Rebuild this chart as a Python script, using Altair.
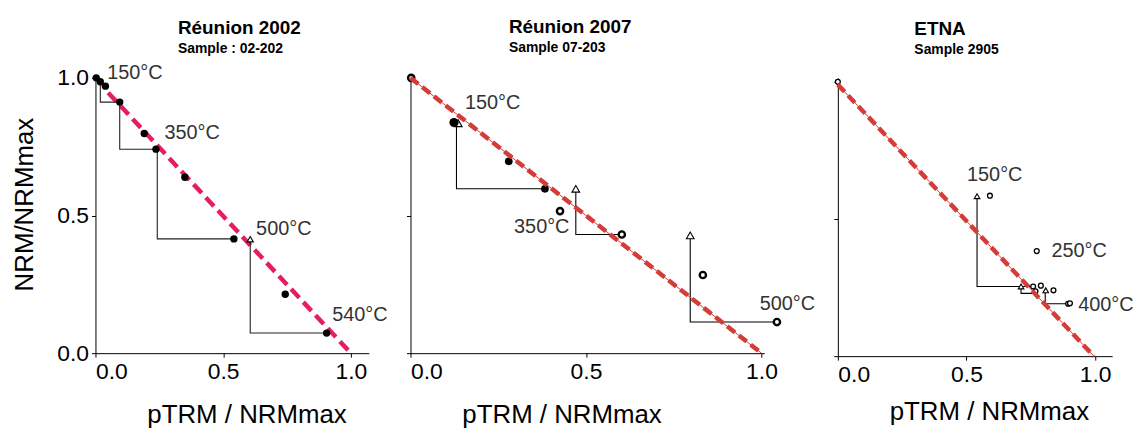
import altair as alt
import pandas as pd

FONT = "Liberation Sans"
TXT = "#333333"

# ---------------- Panel 1 : Réunion 2002, sample 02-202 ----------------
r02_x = [0.003, 0.019, 0.039, 0.095, 0.191, 0.237, 0.350, 0.542, 0.743, 0.905]
r02_y = [1.000, 0.986, 0.970, 0.912, 0.798, 0.741, 0.639, 0.415, 0.214, 0.073]
r02_tri_x = [0.606]
r02_tri_y = [0.414]
# pTRM-check paths: start x, top y, bottom y, end x
r02_chk_x0 = [0.019, 0.095, 0.242, 0.606]
r02_chk_y0 = [0.986, 0.912, 0.741, 0.414]
r02_chk_y1 = [0.912, 0.741, 0.415, 0.073]
r02_chk_x1 = [0.095, 0.237, 0.542, 0.905]
r02_fit_x = [0.05, 1.0]
r02_fit_y = [0.946, 0.0]
r02_lab = ["150°C", "350°C", "500°C", "540°C"]
r02_lab_x = [0.046, 0.270, 0.629, 0.927]
r02_lab_y = [1.018, 0.798, 0.452, 0.137]

# ---------------- Panel 2 : Réunion 2007, sample 07-203 ----------------
r07_big_x = [0.124]
r07_big_y = [0.838]
r07_fill_x = [0.280, 0.383]
r07_fill_y = [0.697, 0.597]
r07_open_x = [0.002, 0.426, 0.602, 0.833, 1.044]
r07_open_y = [1.000, 0.516, 0.431, 0.284, 0.113]
r07_tri_x = [0.136, 0.471, 0.797]
r07_tri_y = [0.835, 0.597, 0.428]
r07_chk_x0 = [0.131, 0.471, 0.797]
r07_chk_y0 = [0.835, 0.597, 0.428]
r07_chk_y1 = [0.597, 0.431, 0.113]
r07_chk_x1 = [0.383, 0.599, 1.044]
r07_fit_x = [0.0, 1.0]
r07_fit_y = [1.0, 0.0]
r07_lab = ["150°C", "350°C", "500°C"]
r07_lab_x = [0.155, 0.295, 0.995]
r07_lab_y = [0.910, 0.458, 0.177]

# ---------------- Panel 3 : ETNA, sample 2905 ----------------
etna_x = [0.000, 0.591, 0.773, 0.759, 0.789, 0.768, 0.838, 0.895, 0.902]
etna_y = [1.000, 0.585, 0.383, 0.254, 0.257, 0.236, 0.240, 0.191, 0.193]
etna_tri_x = [0.541, 0.712, 0.808]
etna_tri_y = [0.583, 0.254, 0.240]
etna_chk_x0 = [0.541, 0.712, 0.806]
etna_chk_y0 = [0.583, 0.254, 0.240]
etna_chk_y1 = [0.254, 0.229, 0.191]
etna_chk_x1 = [0.759, 0.760, 0.892]
etna_fit_x = [0.0, 0.995]
etna_fit_y = [0.990, 0.0]
etna_lab = ["150°C", "250°C", "400°C"]
etna_lab_x = [0.502, 0.830, 0.934]
etna_lab_y = [0.659, 0.384, 0.188]


def pts(xs, ys):
    return pd.DataFrame({"x": xs, "y": ys})


def checks(x0, y0, y1, x1):
    rows = []
    for i, (a, b, c, d) in enumerate(zip(x0, y0, y1, x1)):
        rows += [
            {"x": a, "y": b, "g": i, "o": 0},
            {"x": a, "y": c, "g": i, "o": 1},
            {"x": d, "y": c, "g": i, "o": 2},
        ]
    return pd.DataFrame(rows)


def make_panel(xmax, width, ymax, height, title, subtitle, title_dx, title_off,
               xtitle_y, y_labels, layers_fn):
    xscale = alt.Scale(domain=[0, xmax], nice=False, zero=False)
    yscale = alt.Scale(domain=[0, ymax], nice=False, zero=False)
    xaxis = alt.Axis(
        values=[0, 0.5, 1.0], format=".1f", grid=False,
        labelFont=FONT, labelFontSize=23, labelColor="black",
        labelPadding=4, tickSize=4, tickColor="black", domainColor="black",
        title="pTRM / NRMmax", titleFont=FONT, titleFontSize=26,
        titleFontWeight="normal", titleColor="black",
        titleX=152, titleY=xtitle_y, titleBaseline="alphabetic", titleAlign="center",
    )
    if y_labels:
        yaxis = alt.Axis(
            values=[0, 0.5, 1.0], format=".1f", grid=False,
            labelFont=FONT, labelFontSize=23, labelColor="black",
            labelPadding=3, tickSize=4, tickColor="black", domainColor="black",
            title="NRM/NRMmax", titleFont=FONT, titleFontSize=26,
            titleFontWeight="normal", titleColor="black",
            titleX=-63, titleY=127, titleBaseline="alphabetic",
            titleAlign="center", titleAngle=270,
        )
    else:
        yaxis = alt.Axis(
            values=[0, 0.5, 1.0], grid=False, labels=False,
            tickSize=4, tickColor="black", domainColor="black", title="",
        )
    X = alt.X("x:Q", scale=xscale, axis=xaxis)
    Y = alt.Y("y:Q", scale=yscale, axis=yaxis)
    layers = layers_fn(X, Y)
    return alt.layer(*layers).properties(
        width=width, height=height,
        title=alt.TitleParams(
            text=title, subtitle=subtitle, anchor="start", dx=title_dx,
            frame="group",
            font=FONT, fontSize=19, fontWeight="bold", color="black",
            subtitleFont=FONT, subtitleFontSize=14, subtitleFontWeight="bold",
            subtitleColor="black", subtitlePadding=4, offset=title_off,
        ),
    )


def fit_layers(X, Y, xs, ys, color, thin):
    out = []
    d = pts(xs, ys)
    if thin:
        out.append(alt.Chart(d).mark_line(color=color, strokeWidth=1).encode(x=X, y=Y))
    out.append(
        alt.Chart(d).mark_line(color=color, strokeWidth=4.5,
                               strokeDash=[12, 6] if not thin else [10, 5]).encode(x=X, y=Y)
    )
    return out


def check_layer(X, Y, x0, y0, y1, x1, color="black"):
    return alt.Chart(checks(x0, y0, y1, x1)).mark_line(
        color=color, strokeWidth=1.1
    ).encode(x=X, y=Y, detail="g:N", order="o:Q")


def tri_layer(X, Y, xs, ys, size):
    return alt.Chart(pts(xs, ys)).mark_point(
        shape="triangle-up", filled=True, fill="white", stroke="black",
        strokeWidth=1.1, size=size, opacity=1,
    ).encode(x=X, y=Y)


def text_layer(X, Y, labels, xs, ys):
    d = pd.DataFrame({"x": xs, "y": ys, "t": labels})
    return alt.Chart(d).mark_text(
        align="left", baseline="middle", font=FONT, fontSize=20, color=TXT,
    ).encode(x=X, y=Y, text="t:N")


def layers_r02(X, Y):
    return (
        fit_layers(X, Y, r02_fit_x, r02_fit_y, "#e51d62", False)
        + [
            check_layer(X, Y, r02_chk_x0, r02_chk_y0, r02_chk_y1, r02_chk_x1, "#222222"),
            tri_layer(X, Y, r02_tri_x, r02_tri_y, 40),
            alt.Chart(pts(r02_x, r02_y)).mark_point(
                shape="circle", filled=True, color="black", size=55, opacity=1
            ).encode(x=X, y=Y),
            text_layer(X, Y, r02_lab, r02_lab_x, r02_lab_y),
        ]
    )


def layers_r07(X, Y):
    return [
        check_layer(X, Y, r07_chk_x0, r07_chk_y0, r07_chk_y1, r07_chk_x1),
        tri_layer(X, Y, r07_tri_x, r07_tri_y, 60),
        alt.Chart(pts(r07_big_x, r07_big_y)).mark_point(
            shape="circle", filled=True, color="black", size=85, opacity=1
        ).encode(x=X, y=Y),
        alt.Chart(pts(r07_fill_x, r07_fill_y)).mark_point(
            shape="circle", filled=True, color="black", size=60, opacity=1
        ).encode(x=X, y=Y),
        alt.Chart(pts(r07_open_x, r07_open_y)).mark_point(
            shape="circle", filled=True, fill="white", stroke="black",
            strokeWidth=2.4, size=40, opacity=1
        ).encode(x=X, y=Y),
        text_layer(X, Y, r07_lab, r07_lab_x, r07_lab_y),
    ] + fit_layers(X, Y, r07_fit_x, r07_fit_y, "#d43c37", True)


def layers_etna(X, Y):
    return [
        check_layer(X, Y, etna_chk_x0, etna_chk_y0, etna_chk_y1, etna_chk_x1),
        tri_layer(X, Y, etna_tri_x, etna_tri_y, 32),
        alt.Chart(pts(etna_x, etna_y)).mark_point(
            shape="circle", filled=True, fill="white", stroke="black",
            strokeWidth=1.3, size=24, opacity=1
        ).encode(x=X, y=Y),
        text_layer(X, Y, etna_lab, etna_lab_x, etna_lab_y),
    ] + fit_layers(X, Y, etna_fit_x, etna_fit_y, "#d43c37", True)


p1 = make_panel(1.07, 275, 1.0, 277, "Réunion 2002", "Sample : 02-202", 83, 7, 70, True, layers_r02)
p2 = make_panel(1.008, 356, 1.0, 277, "Réunion 2007", "Sample 07-203", 99, 14, 70, False, layers_r07)
p3 = make_panel(1.066, 276, 1.0145, 280, "ETNA", "Sample 2905", 77, 19, 64, False, layers_etna)

chart = alt.hconcat(p1, p2, p3, spacing=13).properties(
    padding={"left": 4, "top": 9, "right": 0, "bottom": 0},
).configure_view(strokeWidth=0)

chart.save("out.html", embed_options={"renderer": "svg", "actions": False})
